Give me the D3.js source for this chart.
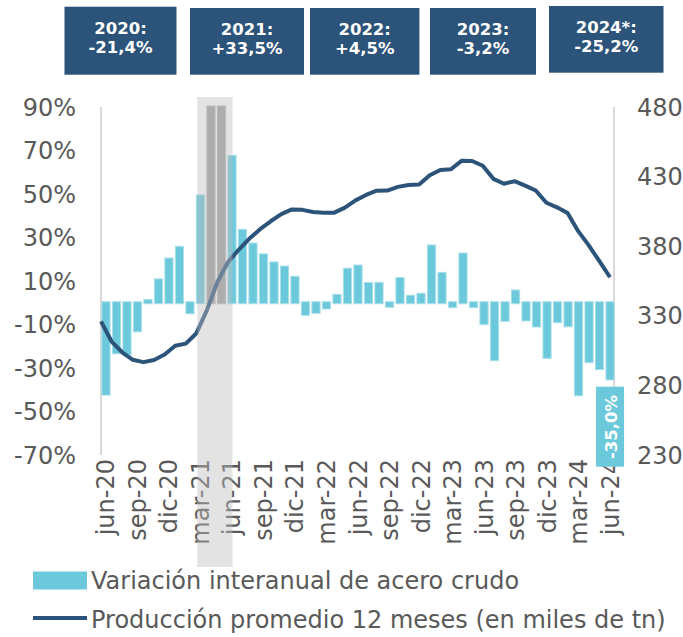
<!DOCTYPE html>
<html><head><meta charset="utf-8">
<script src="https://cdn.jsdelivr.net/npm/d3@7"></script>
<style>body{margin:0;background:#fff}svg{display:block}</style>
</head><body><svg id="c" width="683" height="637"></svg>
<script>
// ---- data ----
const months = ["jun-20","jul-20","ago-20","sep-20","oct-20","nov-20","dic-20","ene-21","feb-21","mar-21","abr-21","may-21",
"jun-21","jul-21","ago-21","sep-21","oct-21","nov-21","dic-21","ene-22","feb-22","mar-22","abr-22","may-22",
"jun-22","jul-22","ago-22","sep-22","oct-22","nov-22","dic-22","ene-23","feb-23","mar-23","abr-23","may-23",
"jun-23","jul-23","ago-23","sep-23","oct-23","nov-23","dic-23","ene-24","feb-24","mar-24","abr-24","may-24","jun-24"];
const variacion = [-42,-23,-23.6,-12.9,1,10.5,20.1,25.5,-4.6,49.1,90,90,
67.3,33.3,27,22,18.3,16.4,11.7,-5.3,-4.4,-2.4,3.4,15.4,
16.9,8.9,8.9,-1.6,11.2,3,3.9,26.1,13.5,-1.8,22.4,-1.8,
-9.6,-26.2,-8.1,5.4,-7.9,-10.7,-25.1,-8.7,-10.6,-42.3,-27.1,-30.3,-35];
const produccion = [326,311.5,303.8,298.4,296.7,298.3,302.2,308.5,310,317.5,334.3,354.6,
368.8,377.6,385.5,392.2,397.9,403,406.4,406.1,404.6,404,404.1,407.7,
412.9,416.8,419.9,420,422.6,423.9,424.4,431,434.8,435.3,441.3,441.2,
437.8,428.4,424.9,426.7,423.5,420,411.2,407.9,403.8,390.8,380.6,369.2,357.7];
const clippedMonths = ["abr-21","may-21"];
const leftTicks = [-70,-50,-30,-10,10,30,50,70,90];
const rightTicks = [230,280,330,380,430,480];
const yearLabels = ["2020:","2021:","2022:","2023:","2024*:"];
const yearValues = ["-21,4%","+33,5%","+4,5%","-3,2%","-25,2%"];
const shadeFrom = "mar-21", shadeTo = "jun-21";
const lastLabel = "-35,0%";
const legendLabels = ["Variación interanual de acero crudo","Producción promedio 12 meses (en miles de tn)"];

// ---- layout ----
const svg = d3.select("#c");
const FONT = "'DejaVu Sans', Verdana, sans-serif";
const BAR = "#6BC9DB", BAR_EDGE = "#A9DFEA", LINE = "#2C5379", GRID = "#D9D9D9", TXT = "#595959";
const x = d3.scaleBand().domain(months).range([100.7, 615.3]).paddingInner(0.22).paddingOuter(0.11);
const xl = d3.scalePoint().domain(months).range([101, 610]);
const yL = d3.scaleLinear().domain([-70, 90]).range([455, 107]);
const yR = d3.scaleLinear().domain([230, 480]).range([455, 107]);
const cx = m => x(m) + x.bandwidth() / 2;

// axis lines
svg.append("line").attr("x1",101).attr("x2",101).attr("y1",yL(90)).attr("y2",yL(-70)).attr("stroke",GRID).attr("stroke-width",2);
svg.append("line").attr("x1",614).attr("x2",614).attr("y1",yR(480)).attr("y2",yR(230)).attr("stroke",GRID).attr("stroke-width",2);

// bars
svg.append("g").selectAll("rect").data(months).join("rect")
  .attr("x", m => x(m))
  .attr("width", x.bandwidth())
  .attr("y", (m,i) => Math.min(yL(variacion[i]), yL(0)) - 1)
  .attr("height", (m,i) => Math.abs(yL(variacion[i]) - yL(0)) + 2)
  .attr("fill", m => clippedMonths.includes(m) ? "#A0A0A0" : BAR)
  .attr("stroke", m => clippedMonths.includes(m) ? "#B8B8B8" : BAR_EDGE)
  .attr("stroke-width", 1);

// line
svg.append("path").datum(produccion)
  .attr("d", d3.line().x((d,i) => xl(months[i])).y(d => yR(d)))
  .attr("fill","none").attr("stroke",LINE).attr("stroke-width",4).attr("stroke-linejoin","round");

// left ticks
svg.append("g").selectAll("text").data(leftTicks).join("text")
  .attr("x",76).attr("y",d=>yL(d)).attr("dy","0.36em").attr("text-anchor","end")
  .attr("font-family",FONT).attr("font-size",24).attr("fill",TXT).text(d=>d+"%");
// right ticks
svg.append("g").selectAll("text").data(rightTicks).join("text")
  .attr("x",637).attr("y",d=>yR(d)).attr("dy","0.36em").attr("text-anchor","start")
  .attr("font-family",FONT).attr("font-size",24).attr("fill",TXT).text(d=>d);
// x labels
svg.append("g").selectAll("text").data(months.filter((m,i)=>i%3===0)).join("text")
  .attr("transform", m => `translate(${cx(m)+8.5},459) rotate(-90)`)
  .attr("text-anchor","end")
  .attr("font-family",FONT).attr("font-size",24).attr("fill",TXT).text(m=>m);

// shaded overlay
const sx0 = cx(shadeFrom) - x.step()*0.3, sx1 = cx(shadeTo) + 0.5;
svg.append("rect").attr("x",sx0).attr("width",sx1-sx0).attr("y",97).attr("height",470)
  .attr("fill","#BEBEBE").attr("opacity",0.43);

// year boxes
const boxes = [[64.5,6.7,112,68],[190,8,114,66.7],[310,8,109.4,66.7],[430,8,106,66.7],[549,6,114.5,66.7]];
const yb = svg.append("g");
boxes.forEach((b,i)=>{
  yb.append("rect").attr("x",b[0]).attr("y",b[1]).attr("width",b[2]).attr("height",b[3]).attr("fill",LINE);
  yb.append("text").attr("x",b[0]+b[2]/2).attr("y",b[1]+21.5).attr("dy","0.36em").attr("text-anchor","middle")
    .attr("font-family",FONT).attr("font-weight","bold").attr("font-size",16.5).attr("fill","#fff").text(yearLabels[i]);
  yb.append("text").attr("x",b[0]+b[2]/2).attr("y",b[1]+40).attr("dy","0.36em").attr("text-anchor","middle")
    .attr("font-family",FONT).attr("font-weight","bold").attr("font-size",16.5).attr("fill","#fff").text(yearValues[i]);
});

// last value label
const lx = cx(months[months.length-1]);
svg.append("rect").attr("x",lx-14).attr("y",386.7).attr("width",28).attr("height",80).attr("fill",BAR);
svg.append("text").attr("transform",`translate(${lx+1},427) rotate(-90)`).attr("dy","0.36em")
  .attr("text-anchor","middle").attr("font-family",FONT).attr("font-weight","bold").attr("font-size",16.5)
  .attr("fill","#fff").text(lastLabel);

// legend
svg.append("rect").attr("x",33).attr("y",571.5).attr("width",54).attr("height",18).attr("fill",BAR);
svg.append("line").attr("x1",33).attr("x2",87).attr("y1",618).attr("y2",618).attr("stroke",LINE).attr("stroke-width",4);
svg.append("text").attr("x",91).attr("y",580.5).attr("dy","0.36em").attr("font-family",FONT).attr("font-size",24)
  .attr("fill",TXT).text(legendLabels[0]);
svg.append("text").attr("x",91).attr("y",619).attr("dy","0.36em").attr("font-family",FONT).attr("font-size",24)
  .attr("fill",TXT).text(legendLabels[1]);
</script></body></html>
